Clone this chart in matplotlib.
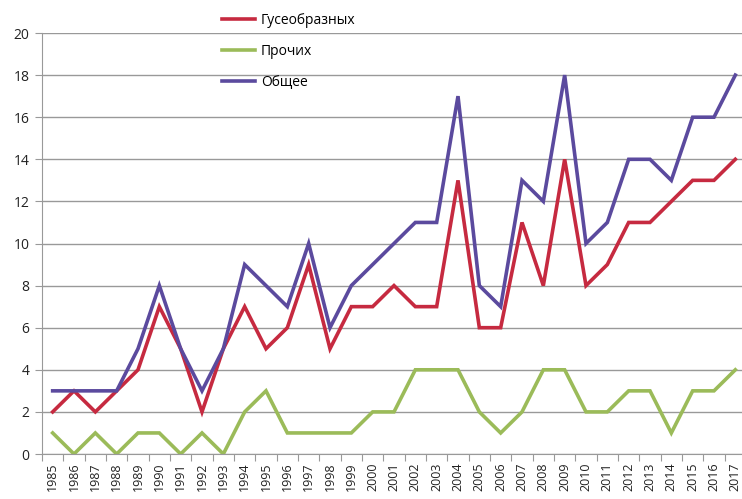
import numpy as np
import matplotlib.pyplot as plt

plt.rcParams['font.family'] = ['Open Sans', 'DejaVu Sans']

years = list(range(1985, 2018))
gusi = [2, 3, 2, 3, 4, 7, 5, 2, 5, 7, 5, 6, 9, 5, 7, 7, 8, 7, 7, 13, 6, 6, 11, 8, 14,
        8, 9, 11, 11, 12, 13, 13, 14]
prochie = [1, 0, 1, 0, 1, 1, 0, 1, 0, 2, 3, 1, 1, 1, 1, 2, 2, 4, 4, 4, 2, 1, 2, 4, 4,
           2, 2, 3, 3, 1, 3, 3, 4]
obshee = [3, 3, 3, 3, 5, 8, 5, 3, 5, 9, 8, 7, 10, 6, 8, 9, 10, 11, 11, 17, 8, 7, 13, 12, 18,
          10, 11, 14, 14, 13, 16, 16, 18]
labels = ['Гусеобразных', 'Прочих', 'Общее']

fig = plt.figure(figsize=(7.42, 4.99), dpi=100)
ax = fig.add_axes([42 / 742, 1 - 454 / 499, 704 / 742, (454 - 33) / 499])

x = np.arange(len(years))
ax.plot(x, gusi, color='#c62a40', lw=2.6, label=labels[0], solid_joinstyle='miter')
ax.plot(x, prochie, color='#9bbb59', lw=2.6, label=labels[1], solid_joinstyle='miter')
ax.plot(x, obshee, color='#5b4a9e', lw=2.6, label=labels[2], solid_joinstyle='miter')

ax.set_xlim(-0.5, len(years) - 0.5)
ax.set_ylim(0, 20)
ax.set_yticks(range(0, 21, 2))
ax.yaxis.grid(True, color='#999999', lw=1)
ax.set_axisbelow(True)
ax.tick_params(axis='y', length=5, color='#999999', labelsize=10, pad=4, labelcolor='#222222')

ax.set_xticks(np.arange(-0.5, len(years), 1))
ax.set_xticklabels([])
ax.set_xticks(x, minor=True)
ax.set_xticklabels([str(y) for y in years], minor=True, rotation=90)
ax.tick_params(axis='x', which='major', length=5, color='#999999')
ax.tick_params(axis='x', which='minor', length=0, labelsize=9, pad=6, colors='#222222')

for s in ['top', 'right']:
    ax.spines[s].set_visible(False)
for s in ['left', 'bottom']:
    ax.spines[s].set_color('#999999')

fig.legend(loc='upper left', bbox_to_anchor=(222 / 742, 1 - 13 / 499), frameon=False,
           fontsize=10, handlelength=2.4, handletextpad=0.4, labelspacing=1.15,
           borderpad=0, borderaxespad=0)

fig.savefig('out.png', dpi=100)
